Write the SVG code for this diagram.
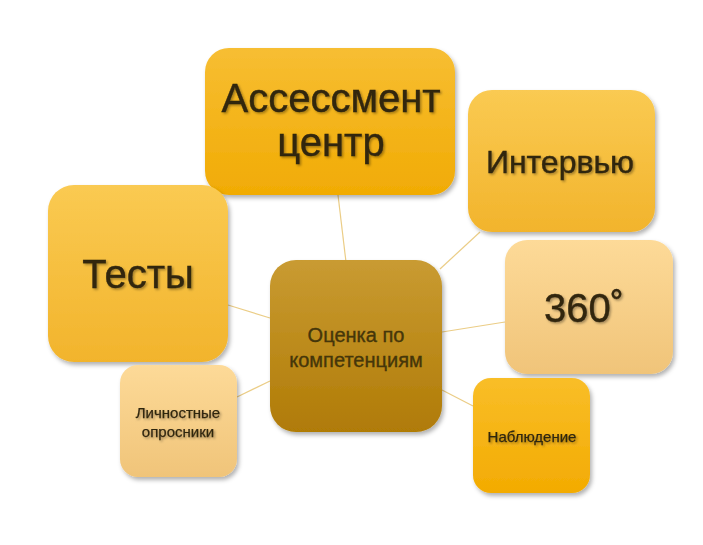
<svg xmlns="http://www.w3.org/2000/svg" width="703" height="545" viewBox="0 0 703 545">
<defs>
<linearGradient id="gA" x1="0" y1="0" x2="0" y2="1"><stop offset="0" stop-color="#F7BE33"/><stop offset="1" stop-color="#F1AB04"/></linearGradient>
<linearGradient id="gC" x1="0" y1="0" x2="0" y2="1"><stop offset="0" stop-color="#C99B32"/><stop offset="1" stop-color="#B07B06"/></linearGradient>
<linearGradient id="gI" x1="0" y1="0" x2="0" y2="1"><stop offset="0" stop-color="#FACA52"/><stop offset="1" stop-color="#F2B42C"/></linearGradient>
<linearGradient id="gL" x1="0" y1="0" x2="0" y2="1"><stop offset="0" stop-color="#FDDA98"/><stop offset="1" stop-color="#F0C479"/></linearGradient>
<linearGradient id="gN" x1="0" y1="0" x2="0" y2="1"><stop offset="0" stop-color="#F9BE28"/><stop offset="1" stop-color="#F3AB02"/></linearGradient>
<filter id="sh" x="-10%" y="-10%" width="125%" height="125%"><feDropShadow dx="2" dy="3" stdDeviation="2" flood-color="#000" flood-opacity="0.3"/></filter>
<filter id="ts" x="-5%" y="-10%" width="115%" height="130%"><feDropShadow dx="1.5" dy="1.5" stdDeviation="1" flood-color="#000" flood-opacity="0.35"/></filter>
</defs>
<style>
.t{font-family:"Liberation Sans","Noto Sans",Arial,sans-serif;fill:#302610;stroke:#302610;stroke-width:0.4;text-anchor:middle}
.s{stroke-width:0.25}
.m{fill:#45360A;stroke:#45360A;stroke-width:0.35}
.c{fill:none;stroke:#EBCD86;stroke-width:1.2}
</style>
<rect width="703" height="545" fill="#FFFFFF"/>
<g id="connectors">
<line class="c" x1="338" y1="195" x2="346" y2="262"/>
<line class="c" x1="480" y1="232" x2="440" y2="269"/>
<line class="c" x1="505" y1="322" x2="442" y2="332"/>
<line class="c" x1="473" y1="406" x2="442" y2="390"/>
<line class="c" x1="228" y1="305" x2="270" y2="318"/>
<line class="c" x1="237" y1="397" x2="270" y2="381"/>
</g>
<g id="assessment">
<rect x="205" y="48" width="250" height="147" rx="24" fill="url(#gA)" filter="url(#sh)"/>
<g filter="url(#ts)"><text class="t" x="331" y="112" font-size="40">Ассессмент</text>
<text class="t" x="331" y="156" font-size="40">центр</text></g>
</g>
<g id="interview">
<rect x="468" y="90" width="187" height="142" rx="24" fill="url(#gI)" filter="url(#sh)"/>
<text class="t" x="560" y="173" font-size="32" filter="url(#ts)">Интервью</text>
</g>
<g id="r360">
<rect x="505" y="240" width="168" height="134" rx="22" fill="url(#gL)" filter="url(#sh)"/>
<text class="t" x="584" y="322" font-size="40" filter="url(#ts)">360˚</text>
</g>
<g id="observation">
<rect x="473" y="378" width="117" height="115" rx="18" fill="url(#gN)" filter="url(#sh)"/>
<text class="t s" x="532" y="442" font-size="15" filter="url(#ts)">Наблюдение</text>
</g>
<g id="tests">
<rect x="48" y="185" width="180" height="177" rx="26" fill="url(#gI)" filter="url(#sh)"/>
<text class="t" x="138" y="288" font-size="40" filter="url(#ts)">Тесты</text>
</g>
<g id="questionnaires">
<rect x="120" y="365" width="117" height="112" rx="18" fill="url(#gL)" filter="url(#sh)"/>
<text class="t s" x="178" y="418" font-size="15" filter="url(#ts)">Личностные</text>
<text class="t s" x="178" y="437" font-size="15" filter="url(#ts)">опросники</text>
</g>
<g id="center">
<rect x="270" y="260" width="172" height="172" rx="26" fill="url(#gC)" filter="url(#sh)"/>
<text class="t m" x="356" y="342" font-size="20">Оценка по</text>
<text class="t m" x="356" y="367" font-size="20">компетенциям</text>
</g>
</svg>
